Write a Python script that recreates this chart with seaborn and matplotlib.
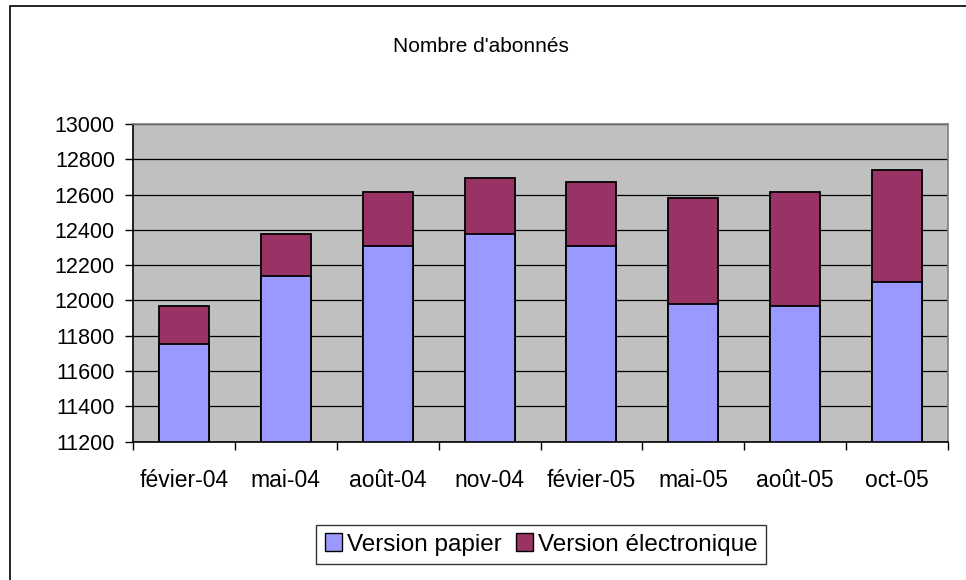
import matplotlib
matplotlib.use("Agg")
import matplotlib.pyplot as plt
from matplotlib.patches import Rectangle, Patch
import numpy as np
import pandas as pd
import seaborn as sns

sns.set_theme(style="white")
plt.rcParams["font.family"] = ["Liberation Sans", "DejaVu Sans"]
plt.rcParams["text.color"] = "black"
plt.rcParams["xtick.color"] = "black"
plt.rcParams["ytick.color"] = "black"

# --- data ---
months = ["févier-04", "mai-04", "août-04", "nov-04",
          "févier-05", "mai-05", "août-05", "oct-05"]
papier = [11755, 12139, 12309, 12375, 12309, 11982, 11968, 12105]
electronique = [213, 236, 307, 318, 363, 598, 646, 632]

df = pd.DataFrame({"mois": months, "papier": papier,
                   "electronique": electronique})
df["total"] = df["papier"] + df["electronique"]

BLUE = "#9999FF"
MAROON = "#993366"

fig = plt.figure(figsize=(9.66, 5.8), dpi=100)
W, H = 966, 580
ax = fig.add_axes([133 / W, 1 - 441.5 / H, 815 / W, 317.5 / H])

# outer chart border (only top/left visible in the crop)
fig.patches.append(Rectangle((10 / W, -0.1), 1.2, 1 - 6 / H + 0.1,
                             transform=fig.transFigure, fill=False,
                             edgecolor="black", linewidth=1.2))

ax.set_facecolor("#C0C0C0")
ax.set_axisbelow(True)
ax.yaxis.grid(True, color="#000000", linewidth=0.9)

# stacked: totals first, then paper on top of them
sns.barplot(data=df, x="mois", y="total", color=MAROON, saturation=1,
            width=0.49, edgecolor="black", linewidth=1.3, ax=ax)
sns.barplot(data=df, x="mois", y="papier", color=BLUE, saturation=1,
            width=0.49, edgecolor="black", linewidth=1.3, ax=ax)

ax.set_ylim(11200, 13000)
ax.set_xlim(-0.5, len(months) - 0.5)
ax.set_yticks(np.arange(11200, 13001, 200))
ax.set_xlabel("")
ax.set_ylabel("")

ax.set_xticks(np.arange(len(months)))
ax.set_xticklabels(months)
ax.set_xticks(np.arange(-0.5, len(months)), minor=True)
ax.tick_params(axis="x", which="major", length=0, pad=20, labelsize=16.5,
               labelcolor="black")
ax.tick_params(axis="x", which="minor", length=6, width=1, color="black",
               direction="out", bottom=True)
ax.tick_params(axis="y", length=6, width=1, color="black", direction="out",
               left=True, pad=7, labelsize=15.5, labelcolor="black")

for side in ["top", "right"]:
    ax.spines[side].set_color("#808080")
    ax.spines[side].set_linewidth(1.2)
for side in ["left", "bottom"]:
    ax.spines[side].set_color("black")
    ax.spines[side].set_linewidth(1.2)

fig.text(481 / W, 1 - 47 / H, "Nombre d'abonnés", ha="center",
         va="center", fontsize=15, color="black")

handles = [Patch(facecolor=BLUE, edgecolor="black", linewidth=1),
           Patch(facecolor=MAROON, edgecolor="black", linewidth=1)]
leg = fig.legend(handles, ["Version papier", "Version électronique"],
                 loc="center", bbox_to_anchor=(541 / W, 1 - 544.5 / H),
                 ncol=2, fontsize=17.5, frameon=True, fancybox=False,
                 handlelength=0.7, handleheight=0.7, handletextpad=0.2,
                 columnspacing=0.6, borderpad=0.35, borderaxespad=0,
                 labelcolor="black")
leg.get_frame().set_edgecolor("black")
leg.get_frame().set_linewidth(1)

fig.savefig("out.png", dpi=100)
